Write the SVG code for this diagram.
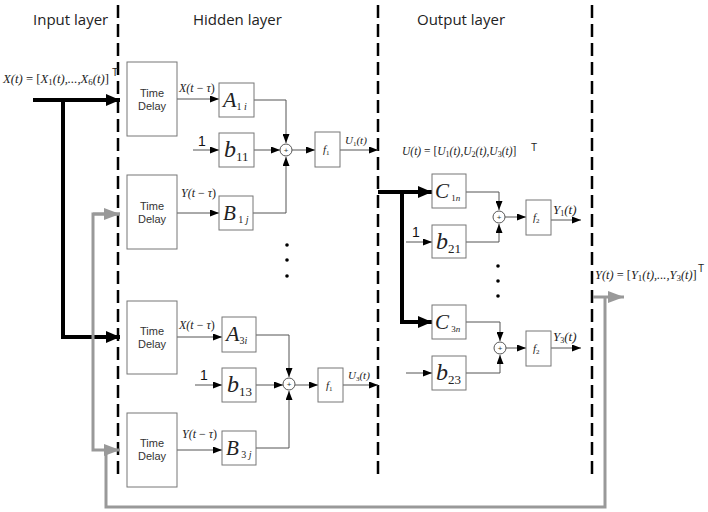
<svg xmlns="http://www.w3.org/2000/svg" width="708" height="512" viewBox="0 0 708 512">
<style>
.box{fill:#fff;stroke:#777;stroke-width:1}
.sum{fill:#fff;stroke:#555;stroke-width:1}
.ln{fill:none;stroke:#555;stroke-width:1}
.thick{fill:none;stroke:#000;stroke-width:4}
.gray{fill:none;stroke:#999;stroke-width:3}
.dash{fill:none;stroke:#000;stroke-width:2.5;stroke-dasharray:13 6}
.title{font-family:"Open Sans","Liberation Sans",sans-serif;font-size:15px;fill:#222}
.td{font-family:"Liberation Sans",Arial,sans-serif;font-size:11px;fill:#333;text-anchor:middle}
.m{font-family:"Liberation Serif","Times New Roman",serif;font-style:italic;fill:#222}
.up{font-style:normal}
.one{font-family:"Liberation Sans",Arial,sans-serif;font-size:14px;fill:#111}
.sup{font-family:"Liberation Sans",Arial,sans-serif;font-size:10px;fill:#222}
.plus{font-family:"Liberation Sans",Arial,sans-serif;font-size:8px;fill:#333;text-anchor:middle}
</style>
<defs>
<marker id="ah" markerUnits="userSpaceOnUse" markerWidth="9" markerHeight="7" refX="9" refY="3.5" orient="auto"><path d="M0,0 L9,3.5 L0,7 z" fill="#000"/></marker>
<marker id="ahT" markerUnits="userSpaceOnUse" markerWidth="14" markerHeight="12" refX="14" refY="6" orient="auto"><path d="M0,0 L14,6 L0,12 z" fill="#000"/></marker>
<marker id="ahG" markerUnits="userSpaceOnUse" markerWidth="16" markerHeight="12" refX="16" refY="6" orient="auto"><path d="M0,0 L16,6 L0,12 z" fill="#999"/></marker>
</defs>

<g id="layers">
<line class="dash" x1="118" y1="5" x2="118" y2="475"/>
<line class="dash" x1="378" y1="5" x2="378" y2="475"/>
<line class="dash" x1="592" y1="5" x2="592" y2="475"/>
<text class="title" x="33" y="25">Input layer</text>
<text class="title" x="193" y="25">Hidden layer</text>
<text class="title" x="417" y="25">Output layer</text>
</g>

<g id="connectors">
<path class="thick" d="M33,100 H120" marker-end="url(#ahT)"/>
<path class="thick" d="M63,100 V337 H120" marker-end="url(#ahT)"/>
<path class="gray" d="M593,297 H624" marker-end="url(#ahG)"/>
<path class="gray" d="M605,297 V507 H106 V450"/>
<path class="gray" d="M120,214 H93 V450 H120" marker-end="url(#ahG)"/>
<path class="gray" d="M93,214 H120" marker-end="url(#ahG)"/>
<path class="ln" d="M177,99 H219" marker-end="url(#ah)"/>
<path class="ln" d="M254,100 H286 V143" marker-end="url(#ah)"/>
<path class="ln" d="M193,150 H219" marker-end="url(#ah)"/>
<path class="ln" d="M254,150 H280" marker-end="url(#ah)"/>
<path class="ln" d="M253,213 H286 V157" marker-end="url(#ah)"/>
<path class="ln" d="M292,150 H315" marker-end="url(#ah)"/>
<path class="ln" d="M340,150 H378" marker-end="url(#ah)"/>
<path class="ln" d="M177,213 H219" marker-end="url(#ah)"/>
<path class="ln" d="M177,337 H222" marker-end="url(#ah)"/>
<path class="ln" d="M256,335 H289 V377" marker-end="url(#ah)"/>
<path class="ln" d="M195,385 H222" marker-end="url(#ah)"/>
<path class="ln" d="M256,385 H283" marker-end="url(#ah)"/>
<path class="ln" d="M256,448 H289 V391" marker-end="url(#ah)"/>
<path class="ln" d="M295,385 H318" marker-end="url(#ah)"/>
<path class="ln" d="M343,385 H378" marker-end="url(#ah)"/>
<path class="ln" d="M177,450 H222" marker-end="url(#ah)"/>
<path class="thick" d="M378,192 H432" marker-end="url(#ahT)"/>
<path class="thick" d="M402,192 V322 H432" marker-end="url(#ahT)"/>
<path class="ln" d="M466,192 H499 V210" marker-end="url(#ah)"/>
<path class="ln" d="M406,242 H432" marker-end="url(#ah)"/>
<path class="ln" d="M466,242 H499 V224" marker-end="url(#ah)"/>
<path class="ln" d="M505,217 H526" marker-end="url(#ah)"/>
<path class="ln" d="M551,220 H581" marker-end="url(#ah)"/>
<path class="ln" d="M466,322 H500 V341" marker-end="url(#ah)"/>
<path class="ln" d="M406,373 H432" marker-end="url(#ah)"/>
<path class="ln" d="M466,373 H500 V355" marker-end="url(#ah)"/>
<path class="ln" d="M506,348 H526" marker-end="url(#ah)"/>
<path class="ln" d="M551,348 H581" marker-end="url(#ah)"/>
</g>

<g id="labels">
<text class="m" x="3" y="83" font-size="13" textLength="106" lengthAdjust="spacingAndGlyphs">X(t) <tspan class="up">= [</tspan>X<tspan font-size="9" dy="2" class="up">1</tspan><tspan dy="-2">(t),...,X</tspan><tspan font-size="9" dy="2" class="up">6</tspan><tspan dy="-2">(t)</tspan><tspan class="up">]</tspan></text>
<text class="sup" x="112" y="76">T</text>
<text class="m" x="402" y="155" font-size="11.5">U(t) <tspan class="up">= [</tspan>U<tspan font-size="8" dy="2" class="up">1</tspan><tspan dy="-2">(t),U</tspan><tspan font-size="8" dy="2" class="up">2</tspan><tspan dy="-2">(t),U</tspan><tspan font-size="8" dy="2" class="up">3</tspan><tspan dy="-2">(t)</tspan><tspan class="up">]</tspan></text>
<text class="sup" x="531" y="151">T</text>
<text class="m" x="595" y="279" font-size="12.4">Y(t) <tspan class="up">= [</tspan>Y<tspan font-size="9" dy="2" class="up">1</tspan><tspan dy="-2">(t),...,Y</tspan><tspan font-size="9" dy="2" class="up">3</tspan><tspan dy="-2">(t)</tspan><tspan class="up">]</tspan></text>
<text class="sup" x="698" y="272">T</text>
<text class="m" x="179" y="92" font-size="12">X(t <tspan class="up">−</tspan> τ<tspan class="up">)</tspan></text>
<text class="m" x="181" y="197" font-size="12">Y(t <tspan class="up">−</tspan> τ<tspan class="up">)</tspan></text>
<text class="m" x="179" y="329" font-size="12">X(t <tspan class="up">−</tspan> τ<tspan class="up">)</tspan></text>
<text class="m" x="182" y="438" font-size="12">Y(t <tspan class="up">−</tspan> τ<tspan class="up">)</tspan></text>
<text class="one" x="198" y="146">1</text>
<text class="one" x="200" y="380">1</text>
<text class="one" x="412" y="237">1</text>
<text class="m" x="345" y="144" font-size="11">U<tspan font-size="7" dy="2" class="up">1</tspan><tspan dy="-2">(t)</tspan></text>
<text class="m" x="348" y="379" font-size="11">U<tspan font-size="7" dy="2" class="up">3</tspan><tspan dy="-2">(t)</tspan></text>
<text class="m" x="553" y="214" font-size="13">Y<tspan font-size="8" dy="2" class="up">1</tspan><tspan dy="-2">(t)</tspan></text>
<text class="m" x="553" y="341" font-size="13">Y<tspan font-size="8" dy="2" class="up">3</tspan><tspan dy="-2">(t)</tspan></text>
<g fill="#000">
<circle cx="287" cy="245" r="1.8"/><circle cx="287" cy="260" r="1.8"/><circle cx="287" cy="276" r="1.8"/>
<circle cx="498" cy="266" r="1.8"/><circle cx="498" cy="281" r="1.8"/><circle cx="498" cy="296" r="1.8"/>
</g>
</g>

<g id="td1"><rect class="box" x="127" y="62" width="50" height="74"/><text class="td" x="152" y="97">Time</text><text class="td" x="152" y="110">Delay</text></g>
<g id="td2"><rect class="box" x="127" y="175" width="50" height="74"/><text class="td" x="152" y="210">Time</text><text class="td" x="152" y="223">Delay</text></g>
<g id="td3"><rect class="box" x="127" y="301" width="50" height="73"/><text class="td" x="152" y="335">Time</text><text class="td" x="152" y="348">Delay</text></g>
<g id="td4"><rect class="box" x="127" y="413" width="50" height="74"/><text class="td" x="152" y="447">Time</text><text class="td" x="152" y="460">Delay</text></g>

<g id="A1i"><rect class="box" x="219" y="83" width="35" height="34"/><text class="m" x="223" y="107" font-size="22">A<tspan font-size="10" dy="3"><tspan class="up">1 </tspan>i</tspan></text></g>
<g id="b11"><rect class="box" x="219" y="133" width="35" height="34"/><text class="m" x="224" y="157" font-size="24">b<tspan class="up" font-size="13" dy="4">11</tspan></text></g>
<g id="B1j"><rect class="box" x="219" y="196" width="34" height="34"/><text class="m" x="223" y="220" font-size="21">B<tspan font-size="10" dy="3"><tspan class="up"> 1 </tspan>j</tspan></text></g>
<g id="sum1"><circle class="sum" cx="286" cy="150" r="6"/><text class="plus" x="286" y="153">+</text></g>
<g id="f1a"><rect class="box" x="315" y="132" width="25" height="35"/><text class="m" x="323" y="153" font-size="11">f<tspan class="up" font-size="7" dy="2">1</tspan></text></g>

<g id="A3i"><rect class="box" x="222" y="317" width="34" height="35"/><text class="m" x="226" y="341" font-size="22">A<tspan font-size="10" dy="3"><tspan class="up">3</tspan>i</tspan></text></g>
<g id="b13"><rect class="box" x="222" y="368" width="34" height="34"/><text class="m" x="227" y="392" font-size="24">b<tspan class="up" font-size="13" dy="4">13</tspan></text></g>
<g id="B3j"><rect class="box" x="222" y="431" width="34" height="34"/><text class="m" x="226" y="455" font-size="21">B<tspan font-size="10" dy="3"><tspan class="up"> 3 </tspan>j</tspan></text></g>
<g id="sum2"><circle class="sum" cx="289" cy="384" r="6"/><text class="plus" x="289" y="387">+</text></g>
<g id="f1b"><rect class="box" x="318" y="368" width="25" height="34"/><text class="m" x="326" y="389" font-size="11">f<tspan class="up" font-size="7" dy="2">1</tspan></text></g>

<g id="C1n"><rect class="box" x="432" y="174" width="34" height="34"/><text class="m" x="435" y="198" font-size="21">C<tspan font-size="9" dy="3"><tspan class="up"> 1</tspan>n</tspan></text></g>
<g id="b21"><rect class="box" x="432" y="225" width="34" height="33"/><text class="m" x="436" y="249" font-size="24">b<tspan class="up" font-size="13" dy="4">21</tspan></text></g>
<g id="sum3"><circle class="sum" cx="499" cy="217" r="6"/><text class="plus" x="499" y="220">+</text></g>
<g id="f2a"><rect class="box" x="526" y="200" width="25" height="35"/><text class="m" x="533" y="221" font-size="11">f<tspan class="up" font-size="7" dy="2">2</tspan></text></g>

<g id="C3n"><rect class="box" x="432" y="305" width="34" height="34"/><text class="m" x="435" y="329" font-size="21">C<tspan font-size="9" dy="3"><tspan class="up"> 3</tspan>n</tspan></text></g>
<g id="b23"><rect class="box" x="432" y="356" width="34" height="34"/><text class="m" x="436" y="380" font-size="24">b<tspan class="up" font-size="13" dy="4">23</tspan></text></g>
<g id="sum4"><circle class="sum" cx="500" cy="348" r="6"/><text class="plus" x="500" y="351">+</text></g>
<g id="f2b"><rect class="box" x="526" y="331" width="25" height="35"/><text class="m" x="533" y="352" font-size="11">f<tspan class="up" font-size="7" dy="2">2</tspan></text></g>
</svg>
